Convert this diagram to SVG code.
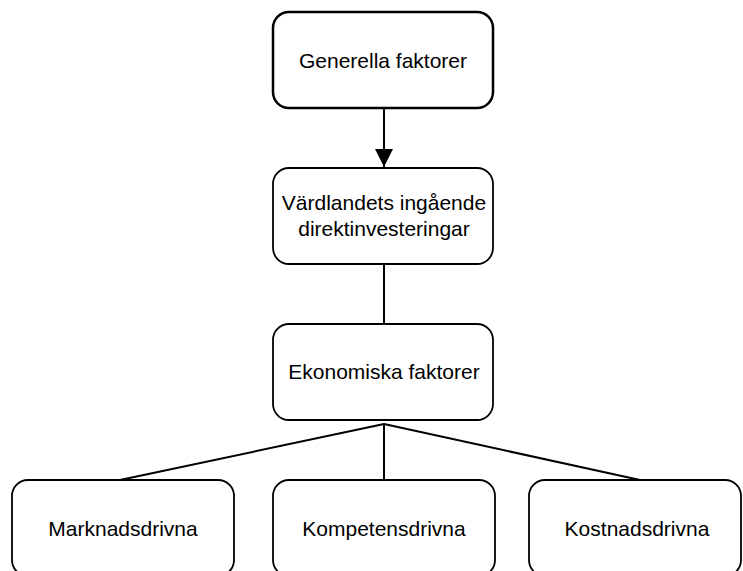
<svg xmlns="http://www.w3.org/2000/svg" width="743" height="571" viewBox="0 0 743 571">
<style>
.box{fill:#fff;stroke:#000;stroke-width:1.8}
.box.thick{stroke-width:2.5}
.lbl{font-family:"Liberation Sans",Arial,sans-serif;font-size:21px;fill:#000;text-anchor:middle}
.con{stroke:#000;stroke-width:2;fill:none}
</style>
<defs>
<marker id="arr" viewBox="0 0 18 18" refX="18" refY="9" markerWidth="18" markerHeight="18" markerUnits="userSpaceOnUse" orient="auto">
<path d="M0,0 L18,9 L0,18 z" fill="#000"/>
</marker>
</defs>
<rect width="743" height="571" fill="#fff"/>
<g id="connectors">
<line class="con" x1="384" y1="108" x2="384" y2="167" stroke-width="3.5" marker-end="url(#arr)"/>
<line class="con" x1="384" y1="264" x2="384" y2="324"/>
<line class="con" x1="384" y1="424" x2="384" y2="480"/>
<line class="con" x1="384" y1="424" x2="120" y2="480"/>
<line class="con" x1="384" y1="424" x2="640" y2="480"/>
</g>
<g id="generella">
<rect class="box thick" x="273" y="12" width="220" height="96" rx="16"/>
<text class="lbl" x="383" y="68">Generella faktorer</text>
</g>
<g id="vardlandets">
<rect class="box" x="273" y="168" width="220" height="96" rx="16"/>
<text class="lbl" x="384" y="210">Värdlandets ingående</text>
<text class="lbl" x="384" y="236">direktinvesteringar</text>
</g>
<g id="ekonomiska">
<rect class="box" x="273" y="324" width="220" height="96" rx="16"/>
<text class="lbl" x="384" y="379">Ekonomiska faktorer</text>
</g>
<g id="marknadsdrivna">
<rect class="box" x="12" y="480" width="222" height="96" rx="16"/>
<text class="lbl" x="123" y="536">Marknadsdrivna</text>
</g>
<g id="kompetensdrivna">
<rect class="box" x="273" y="480" width="222" height="96" rx="16"/>
<text class="lbl" x="384" y="536">Kompetensdrivna</text>
</g>
<g id="kostnadsdrivna">
<rect class="box" x="529" y="480" width="212" height="96" rx="16"/>
<text class="lbl" x="637" y="536">Kostnadsdrivna</text>
</g>
</svg>
